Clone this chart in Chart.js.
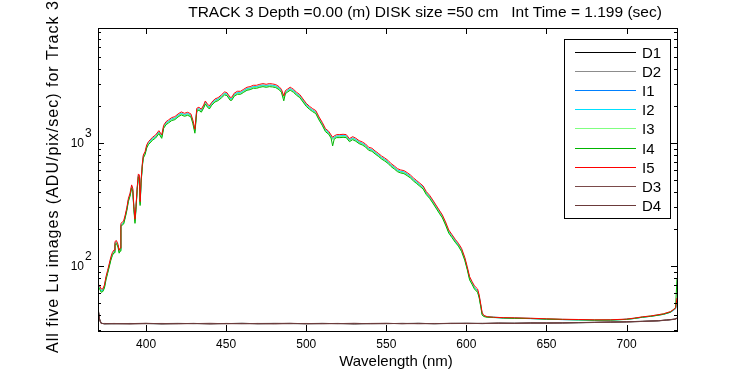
<!DOCTYPE html>
<html lang="en">

<head>
  <meta charset="UTF-8" />
  <title>Track 3 spectra</title>
  <script src="https://cdn.jsdelivr.net/npm/chart.js"></script>
  <style>
    body {
      margin: 0;
      background: #fff;
    }

    canvas {
      display: block;
    }
  </style>
</head>

<body>
  <canvas id="spectre" width="750" height="375"></canvas>

  <script>
    // Wavelength grid (nm) for the five illuminated images
    const wavelengths = [
      370.3, 371, 372, 373, 374, 375, 376, 377, 378, 379, 380,
      380.6, 381.5, 382.5, 383.2, 383.8, 384.3, 385, 386, 387, 388, 389, 390,
      391, 391.7, 392.4, 393.1, 393.7, 394.5, 395.2, 395.8, 396.3, 396.9,
      397.7, 398.3, 399.4, 400.4, 401.5, 402.5, 404, 406, 408, 409.8,
      411, 412.5, 414, 416, 418, 420, 422, 424, 426, 428,
      429.2, 430.5, 431.7, 433, 434.5, 436, 437, 438.3, 439.5, 441,
      443, 445, 447, 449, 450.5, 451.5, 452.5, 453.5, 455, 457,
      459, 461, 463, 465, 467, 469, 471, 473, 475, 477,
      479, 481, 483, 484.5, 486, 487, 488.5, 490, 491, 492,
      494, 496, 498, 500, 502, 504, 506, 508, 510, 512,
      514, 515.5, 516.5, 517.5, 519, 521, 523, 525, 527, 529,
      531, 533, 535, 537, 539, 541, 543, 545, 547, 549,
      551, 553, 555, 557, 559, 561, 563, 565, 567, 569,
      571, 573, 575, 577, 579, 581, 583, 585, 587, 589,
      591, 593, 595, 597, 599, 600.5, 602, 603.5, 605, 607,
      608, 609.2, 609.8, 610.8, 613, 617, 623, 630, 640, 650,
      660, 670, 680, 690, 700, 705, 710, 715, 719, 723,
      727.5, 730.6, 731.5
    ];

    const I1 = [
      69, 67, 63, 63, 68, 80, 89, 101, 114, 125, 131,
      153, 156, 146, 130, 136, 215, 219, 225, 252, 289, 344, 378,
      442, 415, 295, 233, 295, 429, 543, 534, 323, 485,
      663, 774, 825, 934, 994, 1026, 1079, 1127, 1221, 1127,
      1350, 1445, 1492, 1559, 1588, 1670, 1734, 1691, 1723, 1670,
      1492, 1253, 1858, 1892, 1825, 1976, 2128, 2012, 1939, 2078,
      2210, 2266, 2381, 2521, 2489, 2381, 2280, 2280, 2459, 2552,
      2552, 2651, 2751, 2785, 2855, 2855, 2908, 2945, 2908, 2945,
      2926, 2891, 2785, 2651, 2340, 2584, 2668, 2755, 2701, 2651,
      2505, 2398, 2210, 2037, 1927, 1844, 1777, 1578, 1428, 1269,
      1208, 1127, 1079, 1107, 1134, 1134, 1141, 1134, 1051, 1091,
      1059, 1013, 988, 953, 894, 879, 835, 799, 760, 732,
      701, 659, 631, 599, 585, 578, 557, 534, 503, 479,
      456, 434, 390, 365, 334, 304, 276, 252, 221, 190,
      175, 160, 148, 135, 114, 96, 80, 73, 67, 63,
      56, 46, 41, 39.2, 38.5, 38.1, 37.8, 37.6, 37.3, 37.0,
      36.6, 36.4, 36.3, 36.4, 36.8, 37.4, 38.3, 39.0, 39.7, 40.5,
      42.0, 44.8, 52
    ];

    const I2 = [
      69, 67, 63, 64, 68, 80, 90, 101, 115, 126, 132,
      154, 157, 146, 131, 137, 216, 220, 226, 253, 291, 346, 380,
      445, 417, 296, 234, 296, 431, 546, 536, 325, 488,
      667, 778, 830, 939, 999, 1032, 1084, 1133, 1228, 1133,
      1357, 1453, 1500, 1567, 1596, 1679, 1743, 1699, 1732, 1679,
      1500, 1260, 1867, 1902, 1834, 1986, 2139, 2022, 1949, 2088,
      2221, 2278, 2394, 2534, 2502, 2394, 2291, 2291, 2472, 2565,
      2565, 2665, 2765, 2799, 2869, 2869, 2923, 2960, 2923, 2960,
      2942, 2906, 2799, 2665, 2352, 2597, 2681, 2769, 2715, 2665,
      2517, 2410, 2221, 2048, 1937, 1853, 1786, 1586, 1435, 1275,
      1214, 1133, 1084, 1112, 1140, 1140, 1147, 1140, 1057, 1097,
      1065, 1018, 994, 957, 899, 883, 839, 803, 764, 736,
      705, 662, 634, 603, 588, 581, 560, 536, 506, 482,
      458, 436, 392, 367, 335, 305, 278, 254, 222, 191,
      176, 161, 149, 136, 115, 97, 80, 73, 67, 63,
      57, 46, 41, 39.4, 38.6, 38.4, 37.9, 37.8, 37.5, 37.1,
      36.8, 36.6, 36.4, 36.3, 36.9, 37.6, 38.4, 39.1, 39.8, 40.6,
      42.3, 45.0, 50
    ];

    const I3 = [
      68, 66, 62, 62, 67, 79, 88, 100, 113, 124, 130,
      152, 155, 144, 129, 134, 213, 217, 223, 250, 286, 341, 374,
      438, 411, 292, 230, 292, 424, 538, 528, 320, 480,
      657, 766, 817, 924, 984, 1016, 1068, 1116, 1209, 1116,
      1336, 1430, 1476, 1543, 1572, 1653, 1716, 1673, 1705, 1653,
      1476, 1240, 1838, 1873, 1806, 1956, 2106, 1991, 1919, 2056,
      2187, 2243, 2357, 2495, 2463, 2357, 2256, 2256, 2434, 2526,
      2526, 2624, 2723, 2756, 2825, 2825, 2878, 2915, 2878, 2915,
      2896, 2861, 2756, 2624, 2316, 2557, 2640, 2726, 2674, 2624,
      2479, 2373, 2187, 2016, 1908, 1825, 1759, 1562, 1413, 1256,
      1195, 1116, 1068, 1095, 1122, 1122, 1129, 1122, 1041, 1080,
      1048, 1002, 978, 943, 885, 870, 827, 791, 753, 725,
      694, 652, 624, 593, 579, 572, 551, 528, 498, 474,
      451, 429, 386, 361, 330, 300, 274, 250, 219, 188,
      173, 158, 147, 133, 113, 95, 79, 72, 66, 62,
      56, 45, 41, 39.0, 38.4, 38.0, 38.1, 37.7, 37.4, 37.3,
      36.7, 36.5, 36.6, 36.5, 36.7, 37.5, 38.5, 39.3, 39.9, 40.9,
      42.4, 45.2, 53
    ];

    const I4 = [
      67, 65, 61, 62, 66, 77, 87, 98, 111, 122, 128,
      149, 152, 142, 127, 132, 210, 214, 219, 246, 282, 335, 369,
      431, 404, 287, 222, 287, 418, 529, 520, 310, 473,
      646, 754, 804, 910, 969, 1000, 1051, 1098, 1190, 1090,
      1315, 1408, 1453, 1519, 1547, 1627, 1690, 1647, 1678, 1627,
      1440, 1200, 1810, 1844, 1778, 1925, 2073, 1960, 1889, 2024,
      2153, 2208, 2320, 2456, 2425, 2320, 2221, 2221, 2396, 2486,
      2486, 2583, 2680, 2713, 2781, 2781, 2833, 2869, 2833, 2869,
      2851, 2816, 2713, 2583, 2200, 2517, 2599, 2684, 2632, 2583,
      2440, 2336, 2153, 1985, 1878, 1796, 1731, 1538, 1391, 1236,
      1177, 1098, 946, 1078, 1105, 1105, 1111, 1105, 1024, 1063,
      1032, 987, 963, 928, 871, 856, 814, 779, 741, 713,
      683, 642, 614, 584, 570, 563, 542, 520, 490, 467,
      444, 422, 380, 355, 325, 296, 269, 246, 215, 185,
      170, 156, 145, 131, 111, 94, 77, 71, 65, 61,
      55, 45, 40, 38.8, 38.3, 38.2, 37.7, 37.5, 37.4, 36.9,
      36.7, 36.5, 36.2, 36.3, 36.8, 37.5, 38.3, 38.9, 39.6, 40.4,
      42.1, 46, 79
    ];

    const I5 = [
      71, 69, 65, 65, 70, 82, 92, 104, 118, 129, 135,
      158, 161, 150, 134, 140, 222, 226, 232, 260, 298, 355, 390,
      456, 428, 304, 240, 304, 442, 560, 550, 333, 500,
      684, 798, 851, 963, 1025, 1058, 1112, 1162, 1259, 1162,
      1392, 1490, 1538, 1607, 1637, 1722, 1788, 1743, 1776, 1722,
      1538, 1292, 1915, 1951, 1881, 2037, 2194, 2074, 1999, 2142,
      2278, 2336, 2455, 2599, 2566, 2455, 2350, 2350, 2535, 2631,
      2631, 2733, 2836, 2871, 2943, 2943, 2998, 3036, 2998, 3036,
      3017, 2980, 2871, 2733, 2412, 2664, 2750, 2840, 2785, 2733,
      2582, 2472, 2278, 2100, 1987, 1901, 1832, 1627, 1472, 1308,
      1245, 1162, 1112, 1141, 1169, 1169, 1176, 1169, 1084, 1125,
      1092, 1044, 1019, 982, 922, 906, 861, 824, 784, 755,
      723, 679, 650, 618, 603, 596, 574, 550, 519, 494,
      470, 447, 402, 376, 344, 313, 285, 260, 228, 196,
      180, 165, 153, 139, 117.5, 99, 82, 75, 69, 65,
      58, 47, 42, 39.7, 38.7, 38.3, 38.0, 37.9, 37.6, 37.2,
      36.9, 36.7, 36.5, 36.5, 37.0, 37.7, 38.6, 39.2, 40.0, 40.8,
      42.6, 45.3, 55
    ];

    // Dark images, coarser grid
    const darkWavelengths = [
      370.3, 371, 372, 374, 380, 390, 400, 410, 420, 430, 440, 450, 460, 470,
      480, 490, 500, 510, 520, 530, 540, 550, 560, 570, 580, 590, 600, 610,
      620, 630, 640, 650, 660, 670, 680, 690, 700, 710, 720, 725, 730, 731.5
    ];
    const D1 = [
      43, 37, 34.3, 33.8, 34.0, 33.9, 34.1, 33.8, 34.0, 34.1, 33.9, 34.0, 34.2, 33.9,
      34.0, 34.1, 33.9, 34.0, 34.1, 33.8, 34.0, 34.1, 34.0, 34.2, 33.9, 34.1, 34.2, 34.0,
      34.3, 34.2, 34.4, 34.3, 34.5, 34.6, 34.8, 34.9, 35.1, 35.4, 35.9, 36.3, 36.9, 37.6
    ];
    const D2 = [
      42, 36, 34.1, 34.0, 33.8, 34.1, 33.9, 34.0, 34.2, 33.9, 34.0, 34.1, 33.9, 34.1,
      34.2, 33.9, 34.0, 34.2, 33.9, 34.1, 34.0, 33.9, 34.2, 34.0, 34.1, 34.0, 34.1, 34.2,
      34.1, 34.3, 34.2, 34.4, 34.6, 34.5, 34.7, 35.0, 35.2, 35.5, 35.8, 36.2, 37.0, 37.4
    ];
    const D3 = [
      42, 37, 34.2, 33.9, 34.1, 33.8, 34.0, 34.1, 33.9, 34.0, 34.2, 33.9, 34.0, 34.1,
      33.8, 34.0, 34.1, 33.9, 34.0, 34.2, 33.9, 34.0, 34.1, 33.9, 34.0, 34.2, 34.0, 34.1,
      34.2, 34.1, 34.3, 34.4, 34.3, 34.6, 34.7, 35.0, 35.1, 35.4, 35.8, 36.3, 36.8, 37.5
    ];
    const D4 = [
      43, 36, 34.0, 34.1, 33.9, 34.0, 34.2, 33.9, 34.0, 34.1, 33.8, 34.1, 34.0, 33.9,
      34.1, 34.2, 33.9, 34.1, 34.0, 33.9, 34.1, 34.2, 33.9, 34.1, 34.0, 34.1, 34.2, 34.1,
      34.3, 34.2, 34.4, 34.4, 34.5, 34.7, 34.8, 35.0, 35.2, 35.5, 35.9, 36.4, 37.0, 37.8
    ];

    // Axis ticks
    const xTicks = [400, 450, 500, 550, 600, 650, 700];
    const yMajorTicks = [100, 1000];
    const yMinorTicks = [30, 40, 50, 60, 70, 80, 90, 200, 300, 400, 500, 600, 700, 800, 900,
      2000, 3000, 4000, 5000, 6000, 7000, 8000];

    const titleText = "TRACK 3 Depth =0.00 (m) DISK size =50 cm   Int Time = 1.199 (sec)";
    const xTitle = "Wavelength (nm)";
    const yTitle = "All five Lu images (ADU/pix/sec) for Track 3";

    // Plot order (same as legend): later series drawn on top
    const series = [
      { name: "D1", wl: darkWavelengths, values: D1, color: "#000000" },
      { name: "D2", wl: darkWavelengths, values: D2, color: "#8c8c8c" },
      { name: "I1", wl: wavelengths, values: I1, color: "#0080ff" },
      { name: "I2", wl: wavelengths, values: I2, color: "#00e0ff" },
      { name: "I3", wl: wavelengths, values: I3, color: "#80ff80" },
      { name: "I4", wl: wavelengths, values: I4, color: "#00b400" },
      { name: "I5", wl: wavelengths, values: I5, color: "#ff0000" },
      { name: "D3", wl: darkWavelengths, values: D3, color: "#7a4a4a" },
      { name: "D4", wl: darkWavelengths, values: D4, color: "#6b3a3a" }
    ];

    const datasets = series.map((s, i) => ({
      label: s.name,
      data: s.wl.map((w, k) => ({ x: w, y: s.values[k] })),
      borderColor: s.color,
      backgroundColor: s.color,
      borderWidth: 1,
      pointRadius: 0,
      fill: false,
      order: series.length - i
    }));

    const FONT = '"Liberation Sans", Arial, sans-serif';

    // Matlab-like box, inward ticks, labels and legend
    const axesPlugin = {
      id: "axesPlugin",
      afterDraw(chart) {
        const { ctx, chartArea, scales } = chart;
        const { left, right, top, bottom } = chartArea;
        const x = scales.x, y = scales.y;
        ctx.save();
        ctx.strokeStyle = "#000";
        ctx.lineWidth = 1;
        ctx.strokeRect(left + 0.5, top + 0.5, right - left, bottom - top);

        ctx.beginPath();
        xTicks.forEach(v => {
          const px = Math.round(x.getPixelForValue(v)) + 0.5;
          ctx.moveTo(px, bottom); ctx.lineTo(px, bottom - 6);
          ctx.moveTo(px, top); ctx.lineTo(px, top + 6);
        });
        yMajorTicks.forEach(v => {
          const py = Math.round(y.getPixelForValue(v)) + 0.5;
          ctx.moveTo(left, py); ctx.lineTo(left + 6, py);
          ctx.moveTo(right, py); ctx.lineTo(right - 6, py);
        });
        yMinorTicks.forEach(v => {
          const py = Math.round(y.getPixelForValue(v)) + 0.5;
          ctx.moveTo(left, py); ctx.lineTo(left + 3, py);
          ctx.moveTo(right, py); ctx.lineTo(right - 3, py);
        });
        ctx.stroke();

        ctx.fillStyle = "#000";
        ctx.font = "12px " + FONT;
        ctx.textAlign = "center";
        ctx.textBaseline = "middle";
        xTicks.forEach(v => ctx.fillText(String(v), x.getPixelForValue(v), 345));

        yMajorTicks.forEach(v => {
          const py = y.getPixelForValue(v);
          ctx.textAlign = "right";
          ctx.fillText("10", 84, py + 1);
          ctx.textAlign = "left";
          ctx.fillText(String(Math.round(Math.log10(v))), 85, py - 9);
        });

        // titles
        ctx.font = "15.5px " + FONT;
        ctx.textAlign = "center";
        ctx.fillText(titleText, 425, 13);
        ctx.font = "15px " + FONT;
        ctx.fillText(xTitle, 396, 362);

        ctx.save();
        ctx.translate(58, 353);
        ctx.rotate(-Math.PI / 2);
        ctx.font = "16px " + FONT;
        ctx.letterSpacing = "1px";
        ctx.textAlign = "left";
        ctx.textBaseline = "alphabetic";
        ctx.fillText(yTitle, 0, 0);
        ctx.restore();

        // legend box
        const lx = 564, ly = 39, lw = 106, lh = 179;
        ctx.fillStyle = "#fff";
        ctx.fillRect(lx, ly, lw, lh);
        ctx.strokeRect(lx + 0.5, ly + 0.5, lw, lh);
        ctx.font = "15px " + FONT;
        ctx.textAlign = "left";
        ctx.textBaseline = "middle";
        chart.data.datasets.forEach((ds, i) => {
          const ry = Math.round(51.5 + i * 19.2) + 0.5;
          ctx.strokeStyle = ds.borderColor;
          ctx.beginPath();
          ctx.moveTo(575, ry);
          ctx.lineTo(636, ry);
          ctx.stroke();
          ctx.fillStyle = "#000";
          ctx.fillText(ds.label, 642, ry + 1);
        });
        ctx.restore();
      }
    };

    const ctx = document.getElementById("spectre").getContext("2d");
    new Chart(ctx, {
      type: "line",
      data: { datasets: datasets },
      options: {
        responsive: false,
        animation: false,
        layout: { padding: { left: 98, right: 73, top: 28, bottom: 44 } },
        scales: {
          x: { type: "linear", min: 370, max: 731.5, display: false },
          y: { type: "logarithmic", min: 29.6, max: 8600, display: false }
        },
        elements: { line: { tension: 0 } },
        plugins: {
          legend: { display: false },
          tooltip: { enabled: false }
        }
      },
      plugins: [axesPlugin]
    });
  </script>
</body>

</html>
